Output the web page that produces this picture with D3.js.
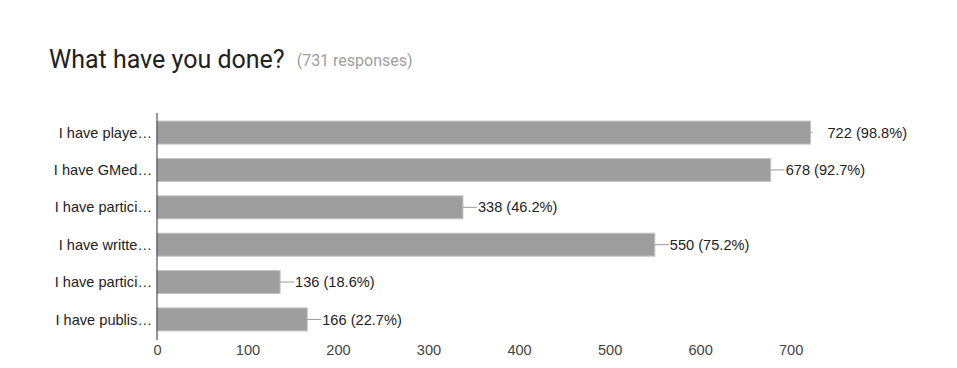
<!DOCTYPE html>
<html>
<head>
<meta charset="utf-8">
<script src="https://cdn.jsdelivr.net/npm/d3@7"></script>
<style>
  body { margin: 0; background: #fff; }
  svg { display: block; }
</style>
</head>
<body>
<svg id="chart" width="957" height="368"></svg>
<script>
// survey answers
const categories = [
    "I have playe\u2026",
    "I have GMed\u2026",
    "I have partici\u2026",
    "I have writte\u2026",
    "I have partici\u2026",
    "I have publis\u2026"
];
const counts = [722, 678, 338, 550, 136, 166];
const percents = ["98.8%", "92.7%", "46.2%", "75.2%", "18.6%", "22.7%"];
const xTicks = [0, 100, 200, 300, 400, 500, 600, 700];
const totalResponses = 731;

const svg = d3.select("#chart");
const labelFont = "Arial, 'Liberation Sans', sans-serif";

const data = categories.map((c, i) => ({ key: i, label: c, value: counts[i], pct: percents[i] }));

const x = d3.scaleLinear().domain([0, 700]).range([157, 790.6]);
const y = d3.scaleBand()
    .domain(data.map(d => d.key))
    .range([114, 338])
    .paddingInner(0.385)
    .paddingOuter(0.19);

// title
const title = svg.append("text")
    .attr("x", 49)
    .attr("y", 68)
    .style("font-family", "Roboto, sans-serif")
    .style("font-size", "25px")
    .style("fill", "#212121")
    .text("What have you done?");

const tw = title.node().getComputedTextLength();
svg.append("text")
    .attr("x", 49 + tw + 12)
    .attr("y", 66)
    .style("font-family", "Roboto, sans-serif")
    .style("font-size", "16px")
    .style("fill", "#9e9e9e")
    .text(`(${totalResponses} responses)`);

// bars
svg.selectAll("rect.bar")
    .data(data)
    .enter()
    .append("rect")
    .attr("class", "bar")
    .attr("x", x(0))
    .attr("y", d => y(d.key))
    .attr("width", d => x(d.value) - x(0))
    .attr("height", y.bandwidth())
    .attr("fill", "#9e9e9e")
    .attr("stroke", "#c4c4c4")
    .attr("stroke-width", 1);

const maxVal = d3.max(counts);

// leader lines + value labels
svg.selectAll("line.leader")
    .data(data)
    .enter()
    .append("line")
    .attr("x1", d => x(d.value))
    .attr("x2", d => x(d.value) + (d.value === maxVal ? 2 : 14))
    .attr("y1", d => y(d.key) + y.bandwidth() / 2)
    .attr("y2", d => y(d.key) + y.bandwidth() / 2)
    .attr("stroke", "#999")
    .attr("stroke-width", 1);

svg.selectAll("text.val")
    .data(data)
    .enter()
    .append("text")
    .attr("class", "val")
    .attr("x", d => x(d.value) + (d.value === maxVal ? 17 : 15))
    .attr("y", d => y(d.key) + y.bandwidth() / 2)
    .attr("dy", "0.35em")
    .style("font-family", labelFont)
    .style("font-size", "14.6px")
    .style("fill", "#222")
    .text(d => `${d.value} (${d.pct})`);

// category labels
svg.selectAll("text.cat")
    .data(data)
    .enter()
    .append("text")
    .attr("class", "cat")
    .attr("x", 152)
    .attr("y", d => y(d.key) + y.bandwidth() / 2)
    .attr("dy", "0.35em")
    .attr("text-anchor", "end")
    .style("font-family", labelFont)
    .style("font-size", "14.6px")
    .style("fill", "#222")
    .text(d => d.label);

// x axis labels (no ticks, no baseline)
const xAxis = d3.axisBottom(x).tickValues(xTicks).tickSize(0).tickPadding(0);
const gx = svg.append("g").attr("transform", "translate(0,345)").call(xAxis);
gx.select(".domain").remove();
gx.selectAll("text")
    .attr("dy", "0.71em")
    .style("font-family", labelFont)
    .style("font-size", "14.6px")
    .style("fill", "#444");

// vertical baseline
svg.append("line")
    .attr("x1", x(0)).attr("x2", x(0))
    .attr("y1", 113).attr("y2", 340)
    .attr("stroke", "#333")
    .attr("stroke-width", 1);
</script>
</body>
</html>
